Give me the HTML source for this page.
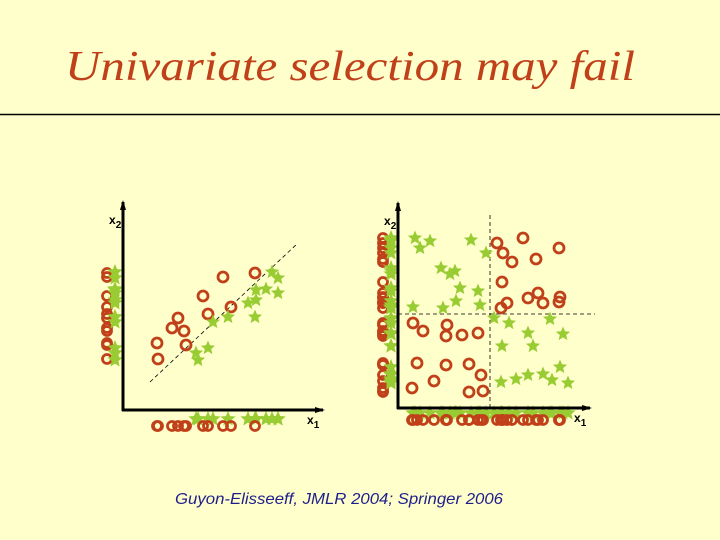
<!DOCTYPE html>
<html><head><meta charset="utf-8"><style>
html,body{margin:0;padding:0;background:#ffffcc;}
svg{display:block;}
</style></head><body>
<svg id="s" width="720" height="540" viewBox="0 0 720 540" xmlns="http://www.w3.org/2000/svg">
<rect width="720" height="540" fill="#ffffcc"/>
<text x="65" y="80" font-family="'Liberation Serif',serif" font-style="italic" font-size="42" textLength="570" lengthAdjust="spacingAndGlyphs" fill="#c0401a">Univariate selection may fail</text>
<line x1="0" y1="114.5" x2="720" y2="114.5" stroke="#000" stroke-width="1.5"/>
<text x="175" y="504" font-family="'Liberation Sans',sans-serif" font-style="italic" font-size="16" textLength="328" lengthAdjust="spacingAndGlyphs" fill="#1e1e8c">Guyon-Elisseeff, JMLR 2004; Springer 2006</text>
<g id="left"></g>
<g id="right"></g>
</svg>
<script>
// Left plot data (offsets from origin, x right, y up)
const leftRedX = [100,132,80,108,85,55,49,61,63,34,35];
const leftRedY = [133,137,114,103,96,92,82,79,65,67,51];
const leftGreenX = [149,155,133,143,155,125,133,132,105,90,85,73,75];
const leftGreenY = [138,132,120,121,117,107,110,93,93,88,62,57,50];
// Right plot data
const rightRedX = [99,125,161,105,114,138,104,140,130,145,162,109,103,161,15,25,49,48,64,80,19,48,71,83,36,14,71,85];
const rightRedY = [165,170,160,155,146,149,126,115,110,105,111,105,100,106,85,77,83,72,73,75,45,43,44,33,27,20,16,17];
const rightGreenX = [17,32,22,73,88,43,57,52,62,80,58,82,45,15,96,111,152,130,165,104,135,162,103,118,130,145,154,170];
const rightGreenY = [170,167,160,168,155,140,137,134,120,117,107,103,100,101,90,85,89,75,74,62,62,41,26,29,33,34,28,25];

const NS='http://www.w3.org/2000/svg';
function mk(tag,attrs,parent){const e=document.createElementNS(NS,tag);for(const k in attrs)e.setAttribute(k,attrs[k]);parent.appendChild(e);return e;}
function starPath(cx,cy,R){const r=R*0.45;let d='';for(let i=0;i<10;i++){const a=-Math.PI/2+i*Math.PI/5;const rr=i%2?r:R;d+=(i?'L':'M')+(cx+rr*Math.cos(a)).toFixed(1)+','+(cy+rr*Math.sin(a)).toFixed(1);}return d+'Z';}
const RED='#c0401a', GREEN='#99cc33';

function plot(g,ox,oy,w,h,rx,ry,gx,gy,projRedX,projGreenX,projRedY,projGreenY){
  const X=v=>ox+v, Y=v=>oy-v;
  ry.forEach(v=>{const c=mk('circle',{cx:projRedX,cy:Y(v),r:4.5,fill:'none',stroke:RED,'stroke-width':2.8},g);
    
    });
  gy.forEach(v=>{const p=mk('path',{d:starPath(projGreenX,Y(v),8),fill:GREEN},g);
    
    });
  gx.forEach(v=>{const p=mk('path',{d:starPath(X(v),projGreenY,8),fill:GREEN},g);
    
    });
  rx.forEach(v=>{const c=mk('circle',{cx:X(v),cy:projRedY,r:4.5,fill:'none',stroke:RED,'stroke-width':2.8},g);
    
    });
  rx.forEach((v,i)=>{const c=mk('circle',{cx:X(v),cy:Y(ry[i]),r:5,fill:'none',stroke:RED,'stroke-width':2.8},g);
    
    });
  gx.forEach((v,i)=>{const p=mk('path',{d:starPath(X(v),Y(gy[i]),7.5),fill:GREEN},g);
    
    });
  const ya=mk('line',{x1:ox,y1:oy+1,x2:ox,y2:oy-h,stroke:'#000','stroke-width':3},g);
  
  
  const xa=mk('line',{x1:ox-1,y1:oy,x2:ox+w,y2:oy,stroke:'#000','stroke-width':3},g);
  
  
  const ah1=mk('path',{d:`M${ox-3},${oy-h+8}L${ox},${oy-h-2}L${ox+3},${oy-h+8}Z`,fill:'#000'},g);
  
  
  const ah2=mk('path',{d:`M${ox+w-8},${oy-3}L${ox+w+2},${oy}L${ox+w-8},${oy+3}Z`,fill:'#000'},g);
  
  
  const t1=mk('text',{x:ox-14,y:oy-h+22,'font-family':'Liberation Sans, sans-serif','font-size':12,'font-weight':'bold'},g);
  t1.innerHTML='x<tspan dy="4" font-size="10">2</tspan>';
  
  
  const t2=mk('text',{x:ox+w-16,y:oy+14,'font-family':'Liberation Sans, sans-serif','font-size':12,'font-weight':'bold'},g);
  t2.innerHTML='x<tspan dy="4" font-size="10">1</tspan>';
  
  
}
const L=document.getElementById('left'), R=document.getElementById('right');
const dl=mk('line',{x1:150,y1:382,x2:298,y2:243,stroke:'#000','stroke-width':0.8,'stroke-dasharray':'4,3'},L);


plot(L,123,410,200,208,leftRedX,leftRedY,leftGreenX,leftGreenY,107,115,426,419);
const dv=mk('line',{x1:490,y1:215,x2:490,y2:408,stroke:'#000','stroke-width':0.8,'stroke-dasharray':'4,3'},R);


const dh=mk('line',{x1:398,y1:314,x2:595,y2:314,stroke:'#000','stroke-width':0.8,'stroke-dasharray':'4,3'},R);


plot(R,398,408,192,205,rightRedX,rightRedY,rightGreenX,rightGreenY,383,391,420,413);
</script>
</body></html>
